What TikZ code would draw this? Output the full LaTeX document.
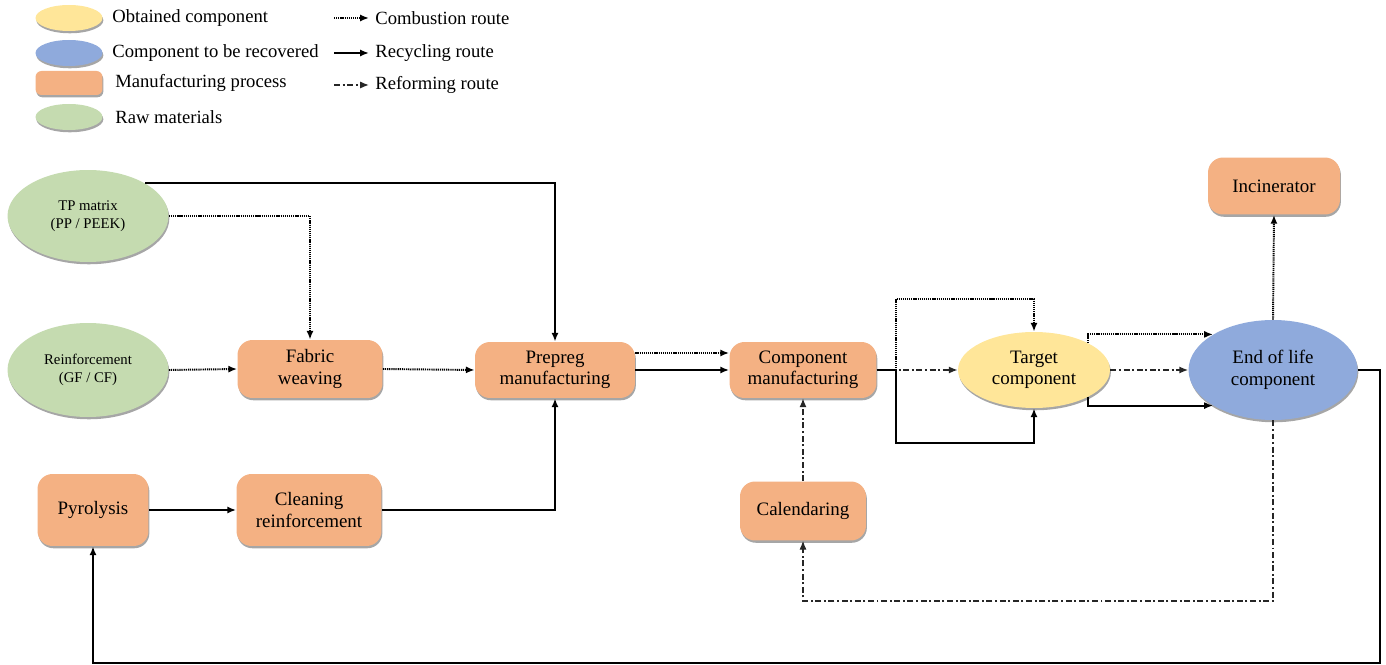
\documentclass[tikz,border=0pt]{standalone}
\usepackage{fontspec}
\setmainfont{Liberation Serif}
\usetikzlibrary{shapes.geometric,arrows.meta,shadows,calc}
\definecolor{cyel}{HTML}{FFE699}
\definecolor{cblue}{HTML}{8FAADC}
\definecolor{corange}{HTML}{F4B183}
\definecolor{cgreen}{HTML}{C5DBB0}
\tikzset{
  shad/.style={drop shadow={shadow xshift=0.5pt, shadow yshift=-1.3pt, opacity=0.35, fill=black}},
  proc/.style={rectangle, rounded corners=0.3cm, fill=corange, shad, inner sep=0pt, align=center, font=\fontsize{10.8}{12.2}\selectfont},
  rawm/.style={ellipse, fill=cgreen, shad, inner sep=0pt, align=center, font=\fontsize{8.4}{10}\selectfont},
  obt/.style={ellipse, fill=cyel, shad, inner sep=0pt, align=center, font=\fontsize{10.8}{12.2}\selectfont},
  rec/.style={ellipse, fill=cblue, shad, inner sep=0pt, align=center, font=\fontsize{10.8}{12.2}\selectfont},
  legtext/.style={anchor=west, inner sep=0pt, font=\fontsize{10.6}{12}\selectfont},
  tip/.style={-{Latex[length=5pt,width=4pt]}},
  recyc/.style={tip, line width=1.1pt},
  comb/.style={tip, line width=1.1pt, dash pattern=on 0.7pt off 0.5pt},
  reform/.style={tip, line width=0.8pt, black!85, dash pattern=on 3.4pt off 1.5pt on 1.1pt off 1.5pt},
}
\begin{document}
\begin{tikzpicture}[x=0.02cm, y=-0.02cm]
\useasboundingbox (0,0) rectangle (1386,665);

% legend
\node[obt, minimum width=1.34cm, minimum height=0.52cm] (lgy) at (69,18) {};
\node[rec, minimum width=1.34cm, minimum height=0.52cm] (lgb) at (69,53) {};
\node[proc, rounded corners=0.12cm, minimum width=1.34cm, minimum height=0.48cm] (lgo) at (69,83) {};
\node[rawm, minimum width=1.34cm, minimum height=0.52cm] (lgg) at (69,117) {};
\node[legtext] (lt1) at (112,18) {Obtained component};
\node[legtext] (lt2) at (112,53) {Component to be recovered};
\node[legtext] (lt3) at (115,83) {Manufacturing process};
\node[legtext] (lt4) at (115,117) {Raw materials};
\coordinate (la1) at (334,18); \coordinate (lb1) at (369,18);
\coordinate (la2) at (334,53); \coordinate (lb2) at (369,53);
\coordinate (la3) at (334,85); \coordinate (lb3) at (369,85);
\draw[comb] (la1) -- (lb1);
\draw[recyc] (la2) -- (lb2);
\draw[reform] (la3) -- (lb3);
\node[legtext] (lr1) at (375,18) {Combustion route};
\node[legtext] (lr2) at (375,53) {Recycling route};
\node[legtext] (lr3) at (375,85) {Reforming route};

% nodes
\node[rawm, minimum width=3.22cm, minimum height=1.84cm] (tp) at (88,216) {TP matrix\\(PP / PEEK)};
\node[rawm, minimum width=3.22cm, minimum height=1.88cm] (reinf) at (88,370) {Reinforcement\\(GF / CF)};
\node[proc, minimum width=2.9cm, minimum height=1.16cm] (fabric) at (310,369) {Fabric\\weaving};
\node[proc, minimum width=3.2cm, minimum height=1.12cm] (prepreg) at (555,370) {Prepreg\\manufacturing};
\node[proc, minimum width=2.94cm, minimum height=1.12cm] (comp) at (803,370) {Component\\manufacturing};
\node[obt, minimum width=3.04cm, minimum height=1.52cm] (target) at (1034,370) {Target\\component};
\node[rec, minimum width=3.38cm, minimum height=2.0cm] (eol) at (1273,370) {End of life\\component};
\node[proc, minimum width=2.64cm, minimum height=1.14cm] (incin) at (1274,186) {Incinerator};
\node[proc, minimum width=2.22cm, minimum height=1.44cm] (pyro) at (93,510) {Pyrolysis};
\node[proc, minimum width=2.9cm, minimum height=1.44cm] (clean) at (309,510) {Cleaning\\reinforcement};
\node[proc, minimum width=2.52cm, minimum height=1.18cm] (cal) at (803,511) {Calendaring};

% helper coordinates
\coordinate (jl) at (896,370);
\coordinate (jtop) at (896,299);
\coordinate (jbot) at (896,443);
\coordinate (ttop) at (1034,299);
\coordinate (tbot) at (1034,443);
\coordinate (eolb) at (1273,601);
\coordinate (calb) at (803,601);
\coordinate (rr1) at (1380,370);
\coordinate (rr2) at (1380,663);
\coordinate (pyb) at (93,663);

% connectors
\draw[recyc] (tp.north east) -| (prepreg.north);
\draw[comb] (tp.east) -| (fabric.north);
\draw[comb] (reinf.east) -- (fabric.west);
\draw[comb] (fabric.east) -- (prepreg.west);
\draw[comb] ($(prepreg.east)+(0,-17)$) -- ($(comp.west)+(0,-17)$);
\draw[recyc] (prepreg.east) -- (comp.west);
\draw[recyc] (clean.east) -| (prepreg.south);
\draw[recyc] (pyro.east) -- (clean.west);
\draw[reform] (cal.north) -- (comp.south);
\draw[reform, line width=0.6pt] (eol.south) -- (eolb) -- (calb) -- (cal.south);
\draw[recyc] (eol.east) -- (rr1) -- (rr2) -- (pyb) -- (pyro.south);
\draw[comb] (eol.north) -- (incin.south);
\draw[reform] (comp.east) -- (target.west);
\draw[recyc] (comp.east) -- (jl) -- (jbot) -- (tbot) -- (target.south);
\draw[comb] (comp.east) -- (jl) -- (jtop) -- (ttop) -- (target.north);
\draw[reform] (target.east) -- (eol.west);
\draw[comb] (target.north east) |- (eol.north west);
\draw[recyc] (target.south east) |- (eol.south west);
\end{tikzpicture}
\end{document}
